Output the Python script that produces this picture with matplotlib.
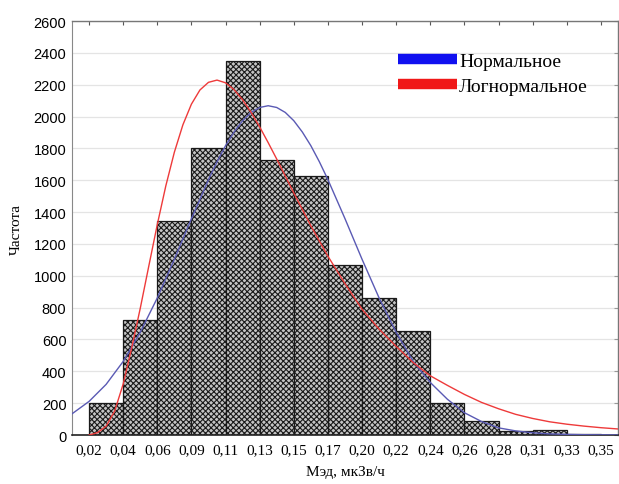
import matplotlib
matplotlib.use("Agg")
import matplotlib.pyplot as plt
from matplotlib.lines import Line2D

# ---- data ----
bin_edges = [0.020, 0.042, 0.064, 0.086, 0.108, 0.130, 0.152, 0.174, 0.196,
             0.218, 0.240, 0.262, 0.284, 0.306, 0.328, 0.350]
edge_labels = ["0,02", "0,04", "0,06", "0,09", "0,11", "0,13", "0,15", "0,17",
               "0,20", "0,22", "0,24", "0,26", "0,28", "0,31", "0,33", "0,35"]
counts = [200, 720, 1345, 1800, 2350, 1730, 1625, 1065, 860, 655, 200, 85, 25, 30, 5]

normal_x = [0.009, 0.020, 0.031, 0.042, 0.053, 0.064, 0.075, 0.086, 0.0915, 0.097,
            0.1025, 0.108, 0.1135, 0.119, 0.1245, 0.130, 0.1355, 0.141, 0.1465, 0.152,
            0.1575, 0.163, 0.1685, 0.174, 0.185, 0.196, 0.207, 0.218, 0.229, 0.240,
            0.251, 0.262, 0.273, 0.284, 0.295, 0.306, 0.317, 0.328, 0.339, 0.350, 0.361]
normal_y = [133, 211, 318, 462, 645, 861, 1104, 1359, 1480, 1604,
            1716, 1817, 1903, 1974, 2026, 2057, 2068, 2057, 2026, 1974,
            1903, 1817, 1716, 1604, 1359, 1104, 861, 645, 462, 330,
            225, 140, 85, 45, 26, 14, 7, 4, 2, 1, 0]

lognorm_x = [0.020, 0.0255, 0.031, 0.0365, 0.042, 0.0475, 0.053, 0.0585, 0.064, 0.0695,
             0.075, 0.0805, 0.086, 0.0915, 0.097, 0.1025, 0.108, 0.1135, 0.119, 0.1245,
             0.130, 0.1355, 0.141, 0.1465, 0.152, 0.163, 0.174, 0.185, 0.196, 0.207,
             0.218, 0.229, 0.240, 0.251, 0.262, 0.273, 0.284, 0.295, 0.306, 0.317,
             0.328, 0.339, 0.350, 0.361]
lognorm_y = [0, 15, 55, 150, 320, 548, 795, 1060, 1322, 1565,
             1776, 1948, 2078, 2167, 2215, 2229, 2212, 2169, 2105, 2026,
             1935, 1836, 1733, 1627, 1520, 1314, 1123, 951, 790, 665,
             557, 455, 372, 312, 255, 205, 165, 130, 104, 83,
             68, 56, 46, 38]

y_ticks = list(range(0, 2601, 200))

# ---- figure ----
plt.rcParams['hatch.linewidth'] = 0.8
plt.rcParams['hatch.color'] = '#5a5a5a'
fig = plt.figure(figsize=(6.19, 4.85), dpi=100)
ax = fig.add_axes([0.1163, 0.101, 0.882, 0.8536])

widths = [bin_edges[i + 1] - bin_edges[i] for i in range(len(counts))]
ax.bar(bin_edges[:-1], counts, width=widths, align='edge',
       facecolor='#c4c4c4', edgecolor='#1a1a1a', linewidth=0.9,
       hatch='xxxxxx', zorder=2)

ax.plot(normal_x, normal_y, color='#5a5ab4', linewidth=1.0, zorder=3)
ax.plot(lognorm_x, lognorm_y, color='#ee3a3a', linewidth=1.0, zorder=3)

ax.set_xlim(0.009, 0.361)
ax.set_ylim(0, 2600)
ax.set_xticks(bin_edges)
ax.set_xticklabels(edge_labels, fontfamily='Liberation Serif', fontsize=11)
ax.set_yticks(y_ticks)
ax.set_yticklabels([str(v) for v in y_ticks], fontfamily='Liberation Sans', fontsize=10.5)

ax.yaxis.grid(True, color='#e4e4e4', linewidth=0.9, zorder=0)
ax.set_axisbelow(True)

ax.tick_params(axis='x', which='both', bottom=False, top=True, direction='in',
               length=3, color='#555555', pad=6)
ax.tick_params(axis='y', which='both', left=False, right=True, direction='in',
               length=3, color='#999999', pad=4)

for side in ['top', 'right']:
    ax.spines[side].set_color('#777777')
    ax.spines[side].set_linewidth(1.0)
ax.spines['left'].set_color('#888888')
ax.spines['bottom'].set_color('#222222')
ax.spines['bottom'].set_linewidth(1.2)

ax.set_xlabel('Мэд, мкЗв/ч', fontfamily='Liberation Serif', fontsize=11, labelpad=6)
ax.set_ylabel('Частота', fontfamily='Liberation Serif', fontsize=11, labelpad=8)

handles = [Line2D([0], [0], color='#1010f0', linewidth=7.5, solid_capstyle='butt'),
           Line2D([0], [0], color='#f01818', linewidth=7.5, solid_capstyle='butt')]
leg = ax.legend(handles, ['Нормальное', 'Логнормальное'], loc='upper left',
                bbox_to_anchor=(0.572, 0.958), frameon=False,
                prop={'family': 'Liberation Serif', 'size': 14},
                handlelength=3.05, handletextpad=0.1, labelspacing=0.4,
                borderpad=0.2)

fig.savefig('out.png', dpi=100)
